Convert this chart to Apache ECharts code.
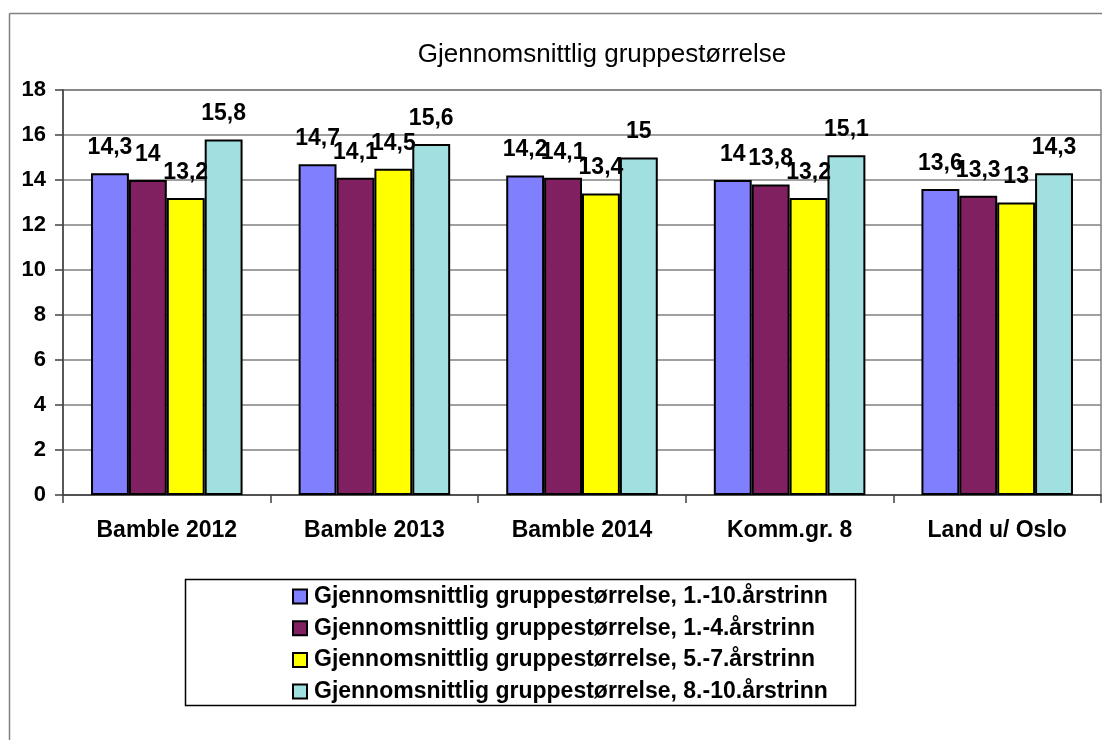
<!DOCTYPE html>
<html><head><meta charset="utf-8">
<script src="https://cdn.jsdelivr.net/npm/echarts@6/dist/echarts.min.js"></script>
<style>html,body{margin:0;padding:0;background:#fff}#c{width:1102px;height:740px}</style>
</head><body><div id="c"></div>
<script>
const titleText = 'Gjennomsnittlig gruppestørrelse';
const categories = ['Bamble 2012', 'Bamble 2013', 'Bamble 2014', 'Komm.gr. 8', 'Land u/ Oslo'];
const seriesNames = [
  'Gjennomsnittlig gruppestørrelse, 1.-10.årstrinn',
  'Gjennomsnittlig gruppestørrelse, 1.-4.årstrinn',
  'Gjennomsnittlig gruppestørrelse, 5.-7.årstrinn',
  'Gjennomsnittlig gruppestørrelse, 8.-10.årstrinn'
];
const values1to10 = [14.3, 14.7, 14.2, 14.0, 13.6];
const values1to4 = [14.0, 14.1, 14.1, 13.8, 13.3];
const values5to7 = [13.2, 14.5, 13.4, 13.2, 13.0];
const values8to10 = [15.8, 15.6, 15.0, 15.1, 14.3];
const colors = ['#8080FF', '#802060', '#FFFF00', '#A0E0E0'];
const yMin = 0, yMax = 18, yInterval = 2;

const font = '"Liberation Sans", Arial, sans-serif';
const allValues = [values1to10, values1to4, values5to7, values8to10];

const series = allValues.map((vals, i) => ({
  name: seriesNames[i],
  type: 'bar',
  data: vals,
  barGap: '0%',
  barCategoryGap: '27%',
  itemStyle: { color: colors[i], borderColor: '#000', borderWidth: 2 },
  label: {
    show: true, position: 'top', distance: 14,
    color: '#000', fontFamily: font, fontWeight: 'bold', fontSize: 23,
    formatter: p => String(p.value).replace('.', ',')
  }
}));

const chart = echarts.init(document.getElementById('c'), null, { renderer: 'canvas' });
chart.setOption({
  animation: false,
  backgroundColor: '#fff',
  title: {
    text: titleText, left: 597, top: 37, textAlign: 'center',
    textStyle: { fontFamily: font, fontWeight: 'normal', fontSize: 26, color: '#000' }
  },
  graphic: [
    { type: 'line', shape: { x1: 9.5, y1: 13.5, x2: 1102, y2: 13.5 }, style: { stroke: '#808080', lineWidth: 1.5 } },
    { type: 'line', shape: { x1: 9.5, y1: 13.5, x2: 9.5, y2: 740 }, style: { stroke: '#808080', lineWidth: 1.5 } },
    { type: 'rect', shape: { x: 185.5, y: 579.5, width: 670, height: 126 }, style: { fill: 'none', stroke: '#000', lineWidth: 1.5 }, z: 10 }
  ],
  legend: {
    orient: 'vertical', left: 292, top: 585, padding: 0, itemGap: 8.7,
    itemWidth: 14, itemHeight: 14, icon: 'rect',
    textStyle: { fontFamily: font, fontWeight: 'bold', fontSize: 23, lineHeight: 23, color: '#000', padding: [0, 0, 0, 2] },
    data: seriesNames
  },
  grid: { left: 63, top: 90, right: 1, bottom: 245, show: true, borderColor: '#808080', borderWidth: 1.5, containLabel: false },
  xAxis: {
    type: 'category', data: categories,
    axisLine: { lineStyle: { color: '#404040', width: 1.5 } },
    axisTick: { show: true, length: 8, lineStyle: { color: '#404040', width: 1.5 } },
    axisLabel: { margin: 24, color: '#000', fontFamily: font, fontWeight: 'bold', fontSize: 23 }
  },
  yAxis: {
    type: 'value', min: yMin, max: yMax, interval: yInterval,
    axisLine: { show: true, lineStyle: { color: '#404040', width: 1.5 } },
    axisTick: { show: true, length: 8, lineStyle: { color: '#404040', width: 1.5 } },
    splitLine: { lineStyle: { color: '#808080', width: 1.5 } },
    axisLabel: { margin: 17, color: '#000', fontFamily: font, fontWeight: 'bold', fontSize: 22 }
  },
  series: series
});
</script>
</body></html>
